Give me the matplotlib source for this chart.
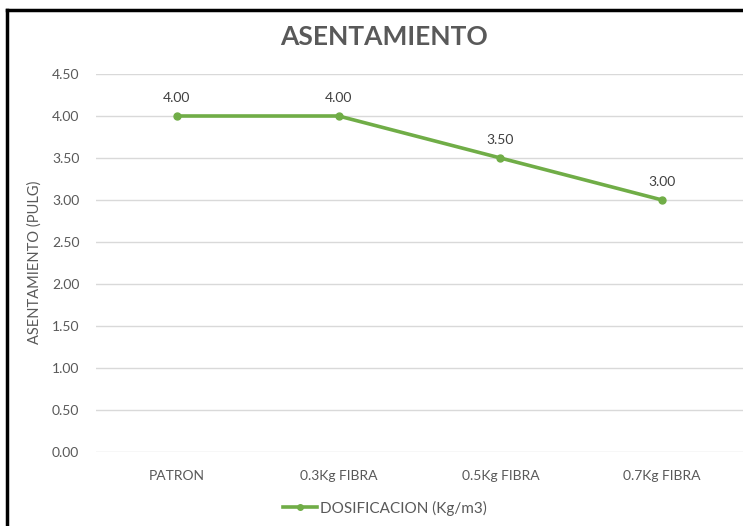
import matplotlib.pyplot as plt
from matplotlib.lines import Line2D

categories = ["PATRON", "0.3Kg FIBRA", "0.5Kg FIBRA", "0.7Kg FIBRA"]
asentamiento = [4.00, 4.00, 3.50, 3.00]
y_ticks = [0.0, 0.5, 1.0, 1.5, 2.0, 2.5, 3.0, 3.5, 4.0, 4.5]
series_name = "DOSIFICACION (Kg/m3)"

plt.rcParams['font.family'] = ['Lato', 'DejaVu Sans']
gray = "#595959"
green = "#70AD47"

fig = plt.figure(figsize=(7.43, 5.26), dpi=100)
ax = fig.add_axes([96 / 743, 1 - 452 / 526, 1 - 96 / 743, (452 - 74) / 526])

x = list(range(len(categories)))
ax.plot(x, asentamiento, color=green, lw=2.6, marker='o', ms=5, zorder=3)
for xi, v in zip(x, asentamiento):
    ax.annotate(f"{v:.2f}", (xi, v), xytext=(0, 9), textcoords='offset points',
                ha='center', va='bottom', fontsize=10, color="#404040")

ax.set_xlim(-0.5, 3.5)
ax.set_ylim(0, 4.5)
ax.set_yticks(y_ticks)
ax.set_yticklabels([f"{t:.2f}" for t in y_ticks])
ax.set_xticks(x)
ax.set_xticklabels(categories)
ax.tick_params(axis='both', length=0, labelsize=10, labelcolor=gray)
ax.tick_params(axis='y', pad=12)
ax.tick_params(axis='x', pad=13)
ax.grid(axis='y', color="#D9D9D9", lw=1)
ax.set_axisbelow(True)
for s in ax.spines.values():
    s.set_visible(False)

fig.text(35 / 743, 1 - 262 / 526, "ASENTAMIENTO (PULG)", rotation=90,
         ha='center', va='center', fontsize=10.5, color=gray)
fig.text(384 / 743, 1 - 37 / 526, "ASENTAMIENTO", ha='center', va='center',
         fontsize=19, fontweight='bold', color=gray)

handle = Line2D([], [], color=green, lw=2.6, marker='o', ms=4)
fig.legend([handle], [series_name], loc='center', bbox_to_anchor=(385 / 743, 1 - 508 / 526),
           frameon=False, fontsize=11, labelcolor=gray, handlelength=2.2, handletextpad=0.2)

# chart border (top and left visible in the crop)
fig.add_artist(Line2D([7.5 / 743, 1], [1 - 9.5 / 526, 1 - 9.5 / 526], color='black', lw=2.5))
fig.add_artist(Line2D([7.5 / 743, 7.5 / 743], [0, 1 - 9.5 / 526], color='black', lw=2.5))

fig.savefig("out.png", dpi=100)
